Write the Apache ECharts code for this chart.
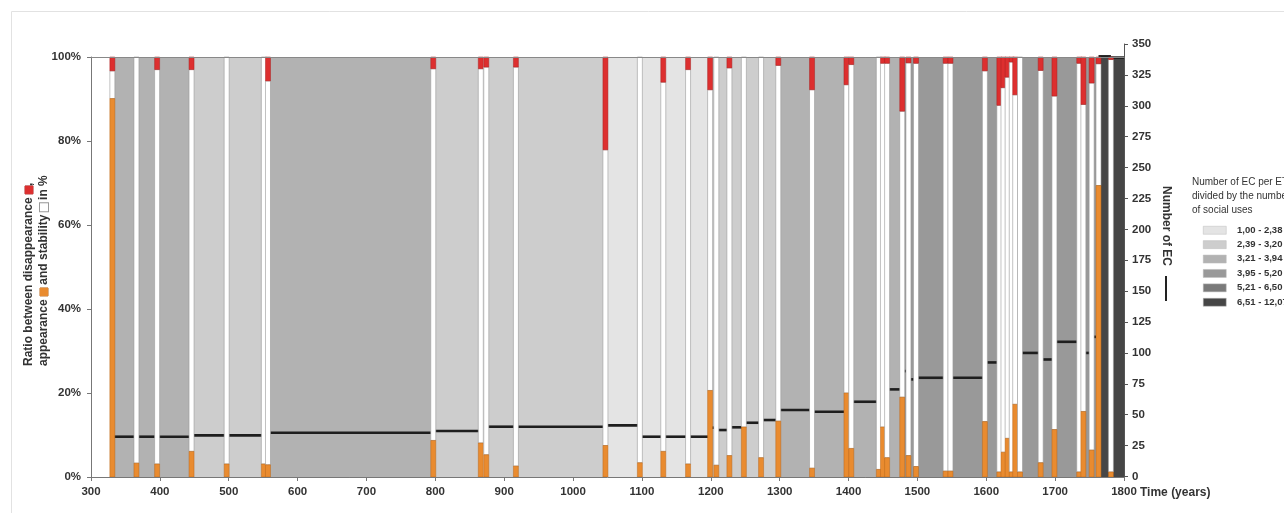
<!DOCTYPE html>
<html><head><meta charset="utf-8">
<script src="https://cdn.jsdelivr.net/npm/echarts@6/dist/echarts.min.js"></script>
<style>html,body{margin:0;padding:0;background:#fff}#c{width:1284px;height:513px}</style>
</head><body><div id="c"></div>
<script>
// ---- Data ----
// Transition points (years) with appearance / disappearance ratios (%)
const years = [331,366,396,446,497,551,557,797,866,874,917,1047,1097,1131,1167,1199,1208,1227,1248,1273,1298,1347,1397,1404,1444,1450,1456,1478,1487,1498,1541,1548,1598,1619,1625,1631,1637,1642,1649,1679,1699,1735,1741,1753,1763,1781];
const appearance = [90.1,3.3,3.1,6.1,3.1,3.1,2.9,8.7,8.1,5.3,2.6,7.5,3.4,6.1,3.1,20.6,2.8,5.1,11.9,4.6,13.3,2.1,20.0,6.8,1.8,11.9,4.6,19.0,5.1,2.5,1.4,1.4,13.2,1.2,5.9,9.2,1.2,17.3,1.2,3.4,11.3,1.2,15.6,6.4,69.4,1.2];
const disappearance = [3.3,0,3.0,3.0,0,0,5.7,2.8,2.8,2.4,2.4,22.1,0,6.0,3.0,7.8,0,2.6,0,0,2.0,7.8,6.6,1.8,0,1.5,1.5,12.9,1.4,1.5,1.5,1.5,3.3,11.5,7.3,4.8,1.2,9.0,0,3.2,9.3,1.5,11.3,6.2,1.6,0.6];
// Periods between transitions: start, end, class (ratio EC/ET per social use) and number of EC
const bandStart = [331,366,396,446,497,557,797,874,917,1047,1097,1131,1167,1199,1208,1227,1248,1273,1298,1347,1404,1456,1478,1487,1498,1548,1598,1649,1679,1699,1741,1753,1763,1781];
const bandEnd   = [366,396,446,497,551,797,866,917,1047,1097,1131,1167,1199,1208,1227,1248,1273,1298,1347,1397,1444,1478,1487,1498,1541,1598,1619,1679,1699,1735,1753,1763,1781,1800];
const bandClass = [3,3,3,2,2, 3,2,2,2, 1,1,1,1, 2,2,2,2,2, 3,3,3,3, 4,4,4,4,4, 4,4,4, 4,4,6,6];
const ecCount   = [32.2,32.2,32.2,33.3,33.3, 35.4,36.8,40.3,40.3, 41.4,32.2,32.2,32.2, 39.5,37.6,39.8,43.5,45.7, 53.8,52.4,60.5,70.5, 85.3,78.6,79.9,79.9,92.3, 100,94.7,109, 100,113,340,339];
// Legend classes
const classLabels = ['1,00 - 2,38','2,39 - 3,20','3,21 - 3,94','3,95 - 5,20','5,21 - 6,50','6,51 - 12,07'];
const classColors = ['#e4e4e4','#cdcdcd','#b2b2b2','#999999','#7a7a7a','#464646'];
const pctTicks = [0,20,40,60,80,100];
const ecTicks = [0,350,25];

const FONT = '"Liberation Sans", Arial, sans-serif';
const chart = echarts.init(document.getElementById('c'), null, {renderer:'canvas'});

const stability = years.map((y,i)=> +(100 - appearance[i] - disappearance[i]).toFixed(1));
const lbl = {fontFamily:FONT, fontWeight:'bold', fontSize:11.5, color:'#333'};
const BAR_W = 5;

const legendGraphics = [];
classLabels.forEach((t,i)=>{
  const y = 226 + i*14.4;
  legendGraphics.push({type:'rect', left:1203, top:y, shape:{width:23,height:8}, style:{fill:classColors[i], stroke:'#bbb', lineWidth:0.5}});
  legendGraphics.push({type:'text', left:1237, top:y-1, style:{text:t, font:'bold 9.5px '+FONT, fill:'#333'}});
});

const option = {
  animation:false,
  grid:[
    {left:91, right:160, top:57, bottom:36, outerBoundsMode:'none', containLabel:false},
    {left:91, right:160, top:44, bottom:36.5, outerBoundsMode:'none', containLabel:false}
  ],
  xAxis:[
    {type:'value', gridIndex:0, min:300, max:1800, interval:100, z:10,
     axisLine:{lineStyle:{color:'#777', width:1}}, axisTick:{length:4, lineStyle:{color:'#777'}},
     splitLine:{show:false}, axisLabel:Object.assign({margin:9, formatter:function(v){return String(v);}}, lbl)},
    {type:'value', gridIndex:1, min:300, max:1800, show:false},
    {type:'value', gridIndex:0, min:300, max:1800, position:'top', z:10,
     axisLine:{lineStyle:{color:'#888', width:1}}, axisTick:{show:false}, axisLabel:{show:false}, splitLine:{show:false}}
  ],
  yAxis:[
    {type:'value', gridIndex:0, min:pctTicks[0], max:pctTicks[pctTicks.length-1], interval:20, z:10,
     axisLine:{show:true, lineStyle:{color:'#777'}}, axisTick:{show:true, length:4, lineStyle:{color:'#777'}},
     splitLine:{show:false}, axisLabel:Object.assign({margin:10, formatter:'{value}%'}, lbl)},
    {type:'value', gridIndex:1, position:'right', min:ecTicks[0], max:ecTicks[1], interval:ecTicks[2], z:10,
     axisLine:{show:true, lineStyle:{color:'#555'}}, axisTick:{show:true, length:4, lineStyle:{color:'#555'}},
     splitLine:{show:false}, axisLabel:Object.assign({margin:8}, lbl)}
  ],
  series:[
    {type:'custom', name:'periods', xAxisIndex:0, yAxisIndex:0, z:1, silent:true,
     encode:{x:[0,1], y:3},
     data: bandStart.map((s,i)=>[s, bandEnd[i], bandClass[i], 0]),
     renderItem:function(params, api){
       const p0 = api.coord([api.value(0), 100]);
       const p1 = api.coord([api.value(1), 0]);
       return {type:'rect', shape:{x:p0[0], y:p0[1], width:p1[0]-p0[0], height:p1[1]-p0[1]},
               style:{fill:classColors[api.value(2)-1]}};
     }},
    {type:'custom', name:'Number of EC', xAxisIndex:1, yAxisIndex:1, z:2, silent:true,
     encode:{x:[0,1], y:2},
     data: bandStart.map((s,i)=>[s, bandEnd[i], ecCount[i]]),
     renderItem:function(params, api){
       const p0 = api.coord([api.value(0), api.value(2)]);
       const p1 = api.coord([api.value(1), api.value(2)]);
       return {type:'line', shape:{x1:p0[0], y1:p0[1], x2:p1[0], y2:p1[1]},
               style:{stroke:'#1e1e1e', lineWidth:2.6}};
     }},
    {type:'custom', name:'ratios', xAxisIndex:0, yAxisIndex:0, z:3, silent:true,
     encode:{x:0, y:1},
     data: years.map((y,i)=>[y, appearance[i], stability[i], disappearance[i]]),
     renderItem:function(params, api){
       const yr = api.value(0), a = api.value(1), s = api.value(2), d = api.value(3);
       const pB = api.coord([yr, 0]);
       const pA = api.coord([yr, a]);
       const pS = api.coord([yr, a + s]);
       const pT = api.coord([yr, 100]);
       const x = pB[0] - BAR_W/2;
       const ch = [];
       ch.push({type:'rect', shape:{x:x, y:pS[1], width:BAR_W, height:pA[1]-pS[1]},
                style:{fill:'#ffffff', stroke:'#9a9a9a', lineWidth:0.6}});
       if (a > 0) ch.push({type:'rect', shape:{x:x, y:pA[1], width:BAR_W, height:pB[1]-pA[1]},
                style:{fill:'#e98b2f', stroke:'#b8681e', lineWidth:0.5}});
       if (d > 0) ch.push({type:'rect', shape:{x:x, y:pT[1], width:BAR_W, height:pS[1]-pT[1]},
                style:{fill:'#dd2f2f', stroke:'#a82222', lineWidth:0.5}});
       return {type:'group', children:ch};
     }}
  ],
  graphic:[
    {type:'rect', left:9, top:9, shape:{width:1300, height:600}, style:{fill:'none', stroke:'#e2e2e2', lineWidth:1}, z:-1},
    {type:'text', x:29, y:366, rotation:Math.PI/2,
     style:{text:'Ratio between disappearance {r| },', font:'bold 12px '+FONT, fill:'#333', align:'left', verticalAlign:'middle',
            rich:{r:{width:8, height:8, backgroundColor:'#dd2f2f', borderColor:'#a82222', borderWidth:0.5}}}},
    {type:'text', x:44, y:366, rotation:Math.PI/2,
     style:{text:'appearance {o| } and stability {w| } in %', font:'bold 12px '+FONT, fill:'#333', align:'left', verticalAlign:'middle',
            rich:{o:{width:8, height:8, backgroundColor:'#e98b2f', borderColor:'#b8681e', borderWidth:0.5},
                  w:{width:8, height:8, backgroundColor:'#fff', borderColor:'#999', borderWidth:1}}}},
    {type:'text', x:1166, y:186, rotation:-Math.PI/2,
     style:{text:'Number of EC', font:'bold 12px '+FONT, fill:'#333', align:'left', verticalAlign:'middle'}},
    {type:'line', shape:{x1:1166, y1:276, x2:1166, y2:301}, style:{stroke:'#222', lineWidth:2}},
    {type:'text', left:1140, top:487, style:{text:'Time (years)', font:'bold 12px '+FONT, fill:'#333'}},
    {type:'text', left:1192, top:175, style:{text:'Number of EC per ET\ndivided by the number\nof social uses', font:'10px '+FONT, fill:'#333', lineHeight:14}}
  ].concat(legendGraphics)
};
chart.setOption(option);
</script></body></html>
